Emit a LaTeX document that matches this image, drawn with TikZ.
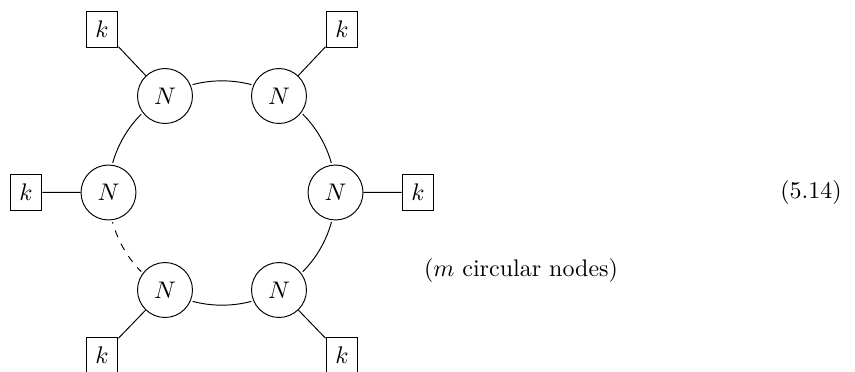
\documentclass[tikz,border=0pt]{standalone}
\pgfdeclarelayer{background}
\pgfsetlayers{background,main}
\begin{document}
\begin{tikzpicture}[x=0.41667pt,y=-0.41667pt,
  ringnode/.style={draw,fill=white,circle,minimum size=22.9pt,inner sep=0pt,
    preaction={draw=white,line width=2pt}},
  flavbox/.style={draw,rectangle,minimum width=13.3pt,minimum height=15pt,inner sep=0pt},
  ringarc/.style={bend left=30,looseness=0.91}]
\useasboundingbox (0,0) rectangle (855,371);
\node[ringnode] (n1) at (165,96) {$N$};
\node[ringnode] (n2) at (279,96) {$N$};
\node[ringnode] (n3) at (335.5,192.5) {$N$};
\node[ringnode] (n4) at (279,290) {$N$};
\node[ringnode] (n5) at (165,290) {$N$};
\node[ringnode] (n6) at (108.5,192.5) {$N$};
\node[flavbox] (b1) at (102,29.3) {$k$};
\node[flavbox] (b2) at (342,29.3) {$k$};
\node[flavbox] (b3) at (418,192.3) {$k$};
\node[flavbox] (b4) at (342,355.3) {$k$};
\node[flavbox] (b5) at (102,355.3) {$k$};
\node[flavbox] (b6) at (26,192.3) {$k$};
\begin{pgfonlayer}{background}
\draw (n1.center) to[ringarc] (n2.center);
\draw (n2.center) to[ringarc] (n3.center);
\draw (n3.center) to[ringarc] (n4.center);
\draw (n4.center) to[ringarc] (n5.center);
\draw[dashed] (n5.center) to[ringarc] (n6.center);
\draw (n6.center) to[ringarc] (n1.center);
\end{pgfonlayer}
\draw (b1) -- (n1);
\draw (b2) -- (n2);
\draw (b3) -- (n3);
\draw (b4) -- (n4);
\draw (b5) -- (n5);
\draw (b6) -- (n6);
\node (lbl) at (521,270) {($m$ circular nodes)};
\node (eqn) at (811,192.5) {(5.14)};
\end{tikzpicture}
\end{document}
